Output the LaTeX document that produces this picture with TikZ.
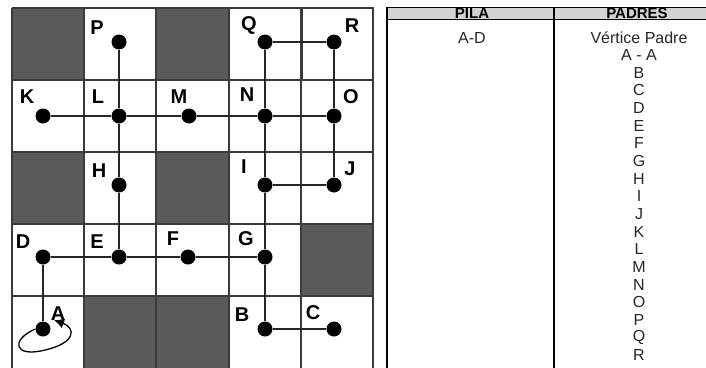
\documentclass[tikz,border=0pt]{standalone}
\usepackage{fontspec}
\setmainfont{Liberation Sans}
\usetikzlibrary{arrows.meta}
\definecolor{darkcell}{HTML}{5A5A5A}
\definecolor{gridline}{HTML}{3A3A3A}
\definecolor{headgray}{HTML}{D4D4D4}
\tikzset{
  dot/.style={circle,fill=black,minimum size=15pt,inner sep=0pt},
  lbl/.style={font=\fontsize{20}{22}\selectfont\bfseries,inner sep=0pt},
  tabtxt/.style={font=\fontsize{16}{18}\selectfont,inner sep=0pt,text=black!85},
  tabhead/.style={font=\fontsize{15}{17}\selectfont\bfseries,inner sep=0pt},
  edge/.style={line width=1.1pt,black!85},
  gridl/.style={line width=1.4pt,gridline},
}
\begin{document}
\begin{tikzpicture}[x=1pt,y=-1pt]
\useasboundingbox (0,0) rectangle (706,367);
% dark cells
\foreach \xa/\ya in {12/8,156/8,12/152,156/152,301/224,84/296,156/296}{
  \fill[darkcell] (\xa,\ya) rectangle ++(72.5,72);
}
% grid
\foreach \xx in {12,84,156,229,301,373}{\draw[gridl] (\xx,8) -- (\xx,370);}
\foreach \yy in {8,80,152,224,296}{\draw[gridl] (12,\yy) -- (373,\yy);}
\draw[line width=2.6pt,gridline] (302,8) rectangle (373,80);
% nodes
\node[dot] (P) at (119,42) {};
\node[dot] (Q) at (265,42) {};
\node[dot] (R) at (334,42) {};
\node[dot] (K) at (43,116) {};
\node[dot] (L) at (119,116) {};
\node[dot] (M) at (189,116) {};
\node[dot] (N) at (265,116) {};
\node[dot] (O) at (334,116) {};
\node[dot] (H) at (119,185) {};
\node[dot] (I) at (265,185) {};
\node[dot] (J) at (334,185) {};
\node[dot] (D) at (43,257) {};
\node[dot] (E) at (119,257) {};
\node[dot] (F) at (188,257) {};
\node[dot] (G) at (265,257) {};
\node[dot] (A) at (43,329) {};
\node[dot] (B) at (265,329) {};
\node[dot] (C) at (334,329) {};
% edges
\draw[edge] (P) -- (L); \draw[edge] (L) -- (H); \draw[edge] (H) -- (E);
\draw[edge] (Q) -- (R); \draw[edge] (Q) -- (N); \draw[edge] (R) -- (O);
\draw[edge] (K) -- (L); \draw[edge] (L) -- (M); \draw[edge] (M) -- (N); \draw[edge] (N) -- (O);
\draw[edge] (N) -- (I); \draw[edge] (I) -- (J); \draw[edge] (O) -- (J);
\draw[edge] (I) -- (G); \draw[edge] (G) -- (B); \draw[edge] (B) -- (C);
\draw[edge] (D) -- (E); \draw[edge] (E) -- (F); \draw[edge] (F) -- (G);
\draw[edge] (D) -- (A);
\coordinate (loopend) at (54,320);
\draw[line width=1.3pt,-{Latex[length=10pt,width=10pt]}] (A.west) .. controls (10,340) and (14,358) .. (45,350) .. controls (76,343) and (76,328) .. (loopend);
% labels
\node[lbl] (lP) at (97,28) {P};
\node[lbl] (lQ) at (249,25) {Q};
\node[lbl] (lR) at (352,26) {R};
\node[lbl] (lK) at (27,97) {K};
\node[lbl] (lL) at (98,97) {L};
\node[lbl] (lM) at (179,97) {M};
\node[lbl] (lN) at (247,95) {N};
\node[lbl] (lO) at (351,97) {O};
\node[lbl] (lH) at (99,171) {H};
\node[lbl] (lI) at (244,167) {I};
\node[lbl] (lJ) at (350,169) {J};
\node[lbl] (lD) at (23,242) {D};
\node[lbl] (lE) at (97,242) {E};
\node[lbl] (lF) at (173,239) {F};
\node[lbl] (lG) at (246,239) {G};
\node[lbl] (lA) at (58,314) {A};
\node[lbl] (lB) at (242,315) {B};
\node[lbl] (lC) at (313,313) {C};
% table
\fill[headgray] (387,7.5) rectangle (707,19.5);
\draw[line width=1.4pt] (387,370) -- (387,7.5) -- (707,7.5);
\draw[line width=1.4pt] (387,19.5) -- (707,19.5);
\draw[line width=1.4pt] (554,7.5) -- (554,370);
\node[tabhead] (hPila) at (472,13.5) {PILA};
\node[tabhead] (hPadres) at (637,13.5) {PADRES};
\node[tabtxt] (pila1) at (472,37.5) {A-D};
\node[tabtxt] (vp) at (639,37.5) {Vértice Padre};
\foreach \t [count=\i] in {A - A,B,C,D,E,F,G,H,I,J,K,L,M,N,O,P,Q,R}{
  \node[tabtxt] (row\i) at (639,37.5+17.65*\i) {\t};
}
\end{tikzpicture}
\end{document}
